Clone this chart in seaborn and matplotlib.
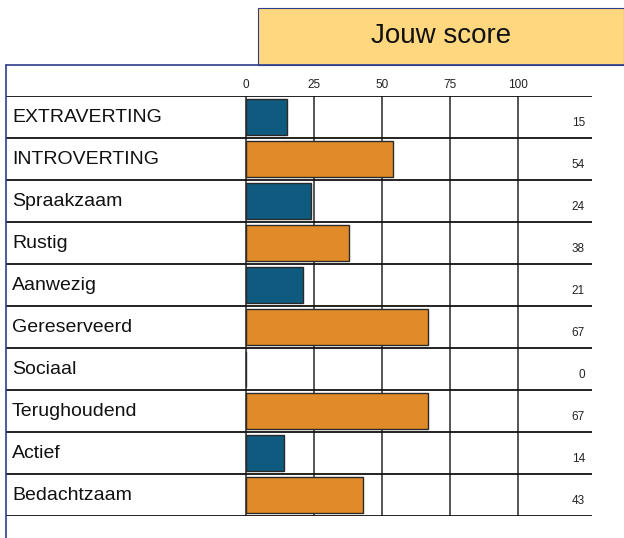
import matplotlib
matplotlib.use("Agg")
import matplotlib.pyplot as plt
from matplotlib.lines import Line2D
from matplotlib.patches import Rectangle
import numpy as np
import seaborn as sns

labels = ["EXTRAVERTING", "INTROVERTING", "Spraakzaam", "Rustig", "Aanwezig",
          "Gereserveerd", "Sociaal", "Terughoudend", "Actief", "Bedachtzaam"]
scores = [15, 54, 24, 38, 21, 67, 0, 67, 14, 43]
ticks = [0, 25, 50, 75, 100]
title = "Jouw score"

blue = "#0f5a7f"
orange = "#e08a29"
frame = "#2e3e8e"
colors = [blue if i % 2 == 0 else orange for i in range(len(labels))]

sns.set_theme(style="white")
plt.rcParams['font.family'] = ['Liberation Sans', 'DejaVu Sans']

W, H = 624, 538
fig = plt.figure(figsize=(W / 100, H / 100), dpi=100)

# table area in pixels: x 6..592, y 96..516
ax = fig.add_axes([6 / W, (H - 516) / H, 586 / W, 420 / H])
px = 2.72  # pixels per score point
x0 = -240 / px
x1 = 346 / px

sns.barplot(x=scores, y=labels, hue=labels, palette=colors, orient="h",
            width=0.86, saturation=1, edgecolor="#2a2a2a", linewidth=1,
            legend=False, ax=ax, zorder=3)

ax.set_xlim(x0, x1)
ax.set_ylim(len(labels) - 0.5, -0.5)
for s in ax.spines.values():
    s.set_visible(False)

ax.vlines(ticks, -0.5, len(labels) - 0.5, color="#555555", lw=1.4, zorder=1)
ax.hlines(np.arange(-0.5, len(labels)), x0, x1, color="#111111", lw=1.3, zorder=2)

ax.xaxis.tick_top()
ax.set_xticks(ticks)
ax.set_xticklabels([str(t) for t in ticks], fontsize=8.5, color="#222222")
ax.tick_params(axis="x", length=0, pad=3.5)
ax.set_yticks([])
ax.set_xlabel("")
ax.set_ylabel("")

for i, (lab, v) in enumerate(zip(labels, scores)):
    ax.text(-234 / px, i + 0.02, lab, ha="left", va="center", fontsize=14, color="#111111")
    ax.text(339 / px, i + 0.15, str(v), ha="right", va="center", fontsize=8.5, color="#222222")

# header box
fig.add_artist(Rectangle((258 / W, (H - 65) / H), (W - 258) / W, 57 / H,
                         transform=fig.transFigure, facecolor="#ffd77f",
                         edgecolor=frame, lw=0.8))
fig.text((258 + W) / 2 / W, (H - 36) / H, title, ha="center", va="center",
         fontsize=20, color="#111111")

# blue frame lines
fig.add_artist(Line2D([6 / W, 6 / W], [0, (H - 65) / H], color=frame, lw=1.2,
                      transform=fig.transFigure))
fig.add_artist(Line2D([6 / W, 1], [(H - 65) / H, (H - 65) / H], color=frame, lw=1.2,
                      transform=fig.transFigure))

fig.savefig("out.png", dpi=100, facecolor="white")
